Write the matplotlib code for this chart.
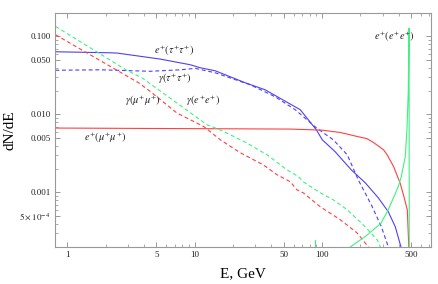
import matplotlib
matplotlib.use("Agg")
import matplotlib.pyplot as plt
from matplotlib.ticker import FixedLocator, NullFormatter

plt.rcParams['mathtext.fontset'] = 'stix'
plt.rcParams['font.family'] = ['Liberation Serif', 'DejaVu Serif']

# e+ from tau+ tau+ (solid blue)
tau_e_E = [0.805, 2.18, 2.46, 5.38, 9.25, 11.09, 14.54, 25.0, 35.9, 67.7, 90.4,
           100.7, 127.4, 170.2, 219.3, 277.4, 332.4, 377.3, 418.0, 430.0]
tau_e_val = [0.0637, 0.0618, 0.0613, 0.0513, 0.0434, 0.0397, 0.0363, 0.0255, 0.0207,
             0.01149, 0.00637, 0.00474, 0.00332, 0.00195, 0.00133, 0.000855,
             0.000566, 0.000363, 0.000201, 0.00015]

# gamma from tau+ tau+ (dashed blue)
tau_g_E = [0.805, 1.82, 4.49, 7.72, 10.13, 14.54, 27.4, 43.0, 61.8, 90.4, 122.9,
           158.3, 193.2, 244.4, 292.9, 332.4, 345.0]
tau_g_val = [0.0369, 0.0374, 0.0358, 0.0374, 0.039, 0.0342, 0.0240, 0.01686, 0.01149,
             0.00675, 0.00474, 0.00304, 0.00145, 0.000696, 0.000366, 0.000201, 0.00015]

# e+ from mu+ mu+ (solid red)
mu_e_E = [0.805, 56.5, 100.0, 139.5, 189.7, 226.0, 253.0, 305.0, 326.0, 366.0,
          413.0, 440.0, 469.0, 482.0, 490.0]
mu_e_val = [0.0067, 0.0065, 0.0063, 0.00588, 0.00522, 0.0049, 0.0044, 0.00353,
            0.00304, 0.00215, 0.0013, 0.0009, 0.0006, 0.0002, 0.0001]

# gamma from mu+ mu+ (dashed red)
mu_g_E = [0.809, 3.658, 4.487, 7.273, 11.77, 15.92, 22.86, 34.65, 44.4, 56.5, 63.7,
          71.4, 97.1, 139.5, 188.7, 231.5, 245.0]
mu_g_val = [0.1051, 0.0253, 0.0197, 0.01042, 0.00702, 0.00474, 0.00323, 0.00226,
            0.00169, 0.00137, 0.00108, 0.00099, 0.000656, 0.000447, 0.000304,
            0.000201, 0.00015]

# gamma from e+ e+ (dashed green)
ee_g_E = [0.809, 1.752, 2.855, 3.884, 12.52, 16.42, 25.8, 37.05, 53.2, 65.3,
          71.4, 97.1, 122.9, 158.3, 211.4, 272.4, 287.6, 300.0]
ee_g_val = [0.1343, 0.0618, 0.0377, 0.0293, 0.00738, 0.0062, 0.0043,
            0.00304, 0.00195, 0.0016, 0.00137, 0.00099, 0.000806, 0.0006,
            0.000385, 0.000247, 0.000201, 0.00015]

# e+ from e+ e+ (solid green)
ee_e_E = [160.0, 167.0, 219.3, 290.0, 332.4, 398.3, 420.6, 452.0, 466.2, 477.3,
          481.6, 484.0, 486.0]
ee_e_val = [0.00015, 0.0002, 0.000273, 0.0004, 0.0006, 0.00119, 0.0016, 0.00287,
            0.0065, 0.0197, 0.06, 0.128, 0.0001]
ee_spike_E = [88.0, 88.0]
ee_spike_val = [0.0001, 0.000248]

xticks = [1, 5, 10, 50, 100, 500]
xticklabels = ['1', '5', '10', '50', '100', '500']
yticks = [5e-4, 0.001, 0.005, 0.01, 0.05, 0.1]
yticklabels = [r'$5\times10^{-4}$', '0.001', '0.005', '0.010', '0.050', '0.100']

blue = '#5040f0'
red = '#ff4040'
green = '#40f080'

fig = plt.figure(figsize=(4.38, 2.84), dpi=100)
ax = fig.add_axes([0.1256, 0.1303, 0.8584, 0.8239])

dash = (0, (3.5, 2.5))
ax.plot(tau_e_E, tau_e_val, color=blue, lw=0.8)
ax.plot(tau_g_E, tau_g_val, color=blue, lw=0.8, linestyle=dash)
ax.plot(mu_e_E, mu_e_val, color=red, lw=0.8)
ax.plot(mu_g_E, mu_g_val, color=red, lw=0.8, linestyle=dash)
ax.plot(ee_g_E, ee_g_val, color=green, lw=0.8, linestyle=dash)
ax.plot(ee_e_E, ee_e_val, color=green, lw=0.8)
ax.plot(ee_spike_E, ee_spike_val, color=green, lw=0.8)

ax.set_xscale('log')
ax.set_yscale('log')
ax.set_xlim(0.8, 720)
ax.set_ylim(2.0e-4, 0.2)

ax.xaxis.set_major_locator(FixedLocator(xticks))
ax.set_xticklabels(xticklabels)
xminor = [m * 10 ** d for d in range(0, 3) for m in range(2, 10) if m != 5]
ax.xaxis.set_minor_locator(FixedLocator(xminor))
ax.xaxis.set_minor_formatter(NullFormatter())

ax.yaxis.set_major_locator(FixedLocator(yticks))
ax.set_yticklabels(yticklabels)
yminor = [m * 10.0 ** d for d in range(-4, 0) for m in range(2, 10) if m != 5]
ax.yaxis.set_minor_locator(FixedLocator(yminor))
ax.yaxis.set_minor_formatter(NullFormatter())

ax.tick_params(which='both', direction='in', top=True, right=True,
               color='#888888', labelsize=6.5, labelcolor='#222222', pad=3)
ax.tick_params(which='major', length=3.5, width=0.6)
ax.tick_params(which='minor', length=2, width=0.5)
for s in ax.spines.values():
    s.set_color('#999999')
    s.set_linewidth(0.8)

ax.set_xlabel('E, GeV', fontsize=11, labelpad=6)
ax.set_ylabel('dN/dE', fontsize=11, labelpad=2)

lab = dict(fontsize=7.5, ha='center', va='center', color='#222222')
ax.text(6.93, 0.0656, r'$e^{+}(\tau^{+}\tau^{+})$', **lab)
ax.text(6.93, 0.0287, r'$\gamma(\tau^{+}\tau^{+})$', **lab)
ax.text(3.95, 0.015, r'$\gamma(\mu^{+}\mu^{+})$', **lab)
ax.text(11.7, 0.015, r'$\gamma(e^{+}e^{+})$', **lab)
ax.text(1.99, 0.00503, r'$e^{+}(\mu^{+}\mu^{+})$', **lab)
ax.text(370, 0.099, r'$e^{+}(e^{+}e^{+})$', **lab)

fig.savefig('out.png', dpi=100)
